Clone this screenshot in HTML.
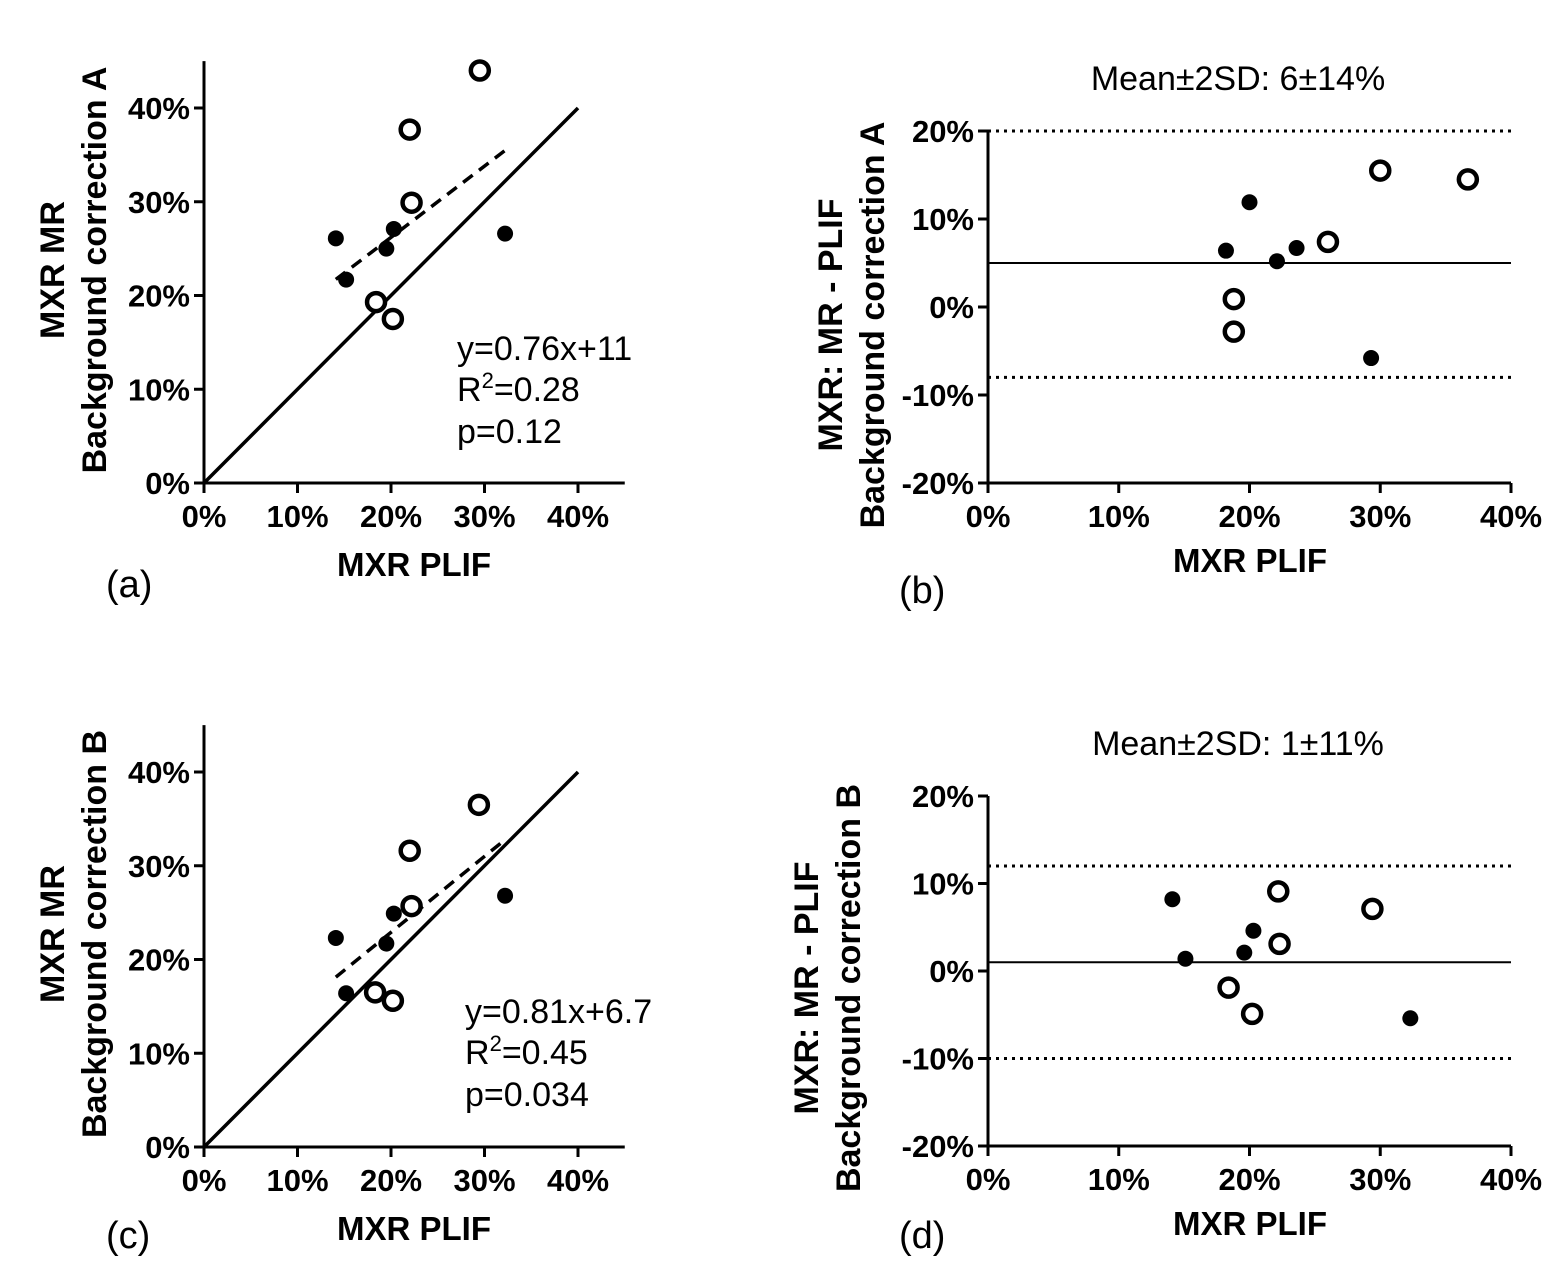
<!DOCTYPE html>
<html><head><meta charset="utf-8">
<style>
html,body{margin:0;padding:0;background:#fff;}
svg{display:block;font-family:"Liberation Sans",Arial,sans-serif;}
</style></head>
<body>
<svg id="fig" width="1563" height="1288" viewBox="0 0 1563 1288" xmlns="http://www.w3.org/2000/svg"></svg>
<script>
// Panel (a) data
const aFilledX=[14.1,15.2,19.5,20.3,32.2];
const aFilledY=[26.1,21.7,25.0,27.1,26.6];
const aOpenX=[29.5,22.0,22.2,18.4,20.2];
const aOpenY=[44.0,37.7,29.9,19.3,17.5];
const aFitSlope=0.76, aFitIntercept=11;
// Panel (b) data
const bFilledX=[18.2,20.0,22.1,23.6,29.3];
const bFilledY=[6.4,11.9,5.2,6.7,-5.8];
const bOpenX=[18.8,18.8,26.0,30.0,36.7];
const bOpenY=[0.9,-2.8,7.4,15.5,14.5];
const bMean=5, bUpper=20, bLower=-8;
// Panel (c) data
const cFilledX=[14.1,15.2,19.5,20.3,32.2];
const cFilledY=[22.3,16.4,21.7,24.9,26.8];
const cOpenX=[29.4,22.0,22.2,18.3,20.2];
const cOpenY=[36.5,31.6,25.7,16.5,15.6];
const cFitSlope=0.81, cFitIntercept=6.7;
// Panel (d) data
const dFilledX=[14.1,15.1,19.6,20.3,32.3];
const dFilledY=[8.2,1.4,2.1,4.6,-5.4];
const dOpenX=[18.4,20.2,22.2,22.3,29.4];
const dOpenY=[-1.9,-4.9,9.1,3.1,7.1];
const dMean=1, dUpper=12, dLower=-10;
// ticks
const scatterTicks=[0,10,20,30,40];
const baYTicks=[-20,-10,0,10,20];
const baXTicks=[0,10,20,30,40];

const NS="http://www.w3.org/2000/svg";
const svg=document.getElementById('fig');
function el(tag,attrs,parent,text){
  const e=document.createElementNS(NS,tag);
  for(const k in attrs)e.setAttribute(k,attrs[k]);
  if(text!==undefined)e.textContent=text;
  (parent||svg).appendChild(e);return e;
}
function axes(g,sx,sy,xmin,xmax,ymin,ymax,xt,yt){
  const xa=el('line',{x1:sx(xmin),y1:sy(ymin),x2:sx(xmax),y2:sy(ymin),stroke:'#000','stroke-width':3},g);
  
  
  const ya=el('line',{x1:sx(xmin),y1:sy(ymin),x2:sx(xmin),y2:sy(ymax),stroke:'#000','stroke-width':3},g);
  
  
  xt.forEach(v=>{
    el('line',{x1:sx(v),y1:sy(ymin),x2:sx(v),y2:sy(ymin)+10,stroke:'#000','stroke-width':3},g);
    const t=el('text',{x:sx(v),y:sy(ymin)+44,'text-anchor':'middle','font-size':31,'font-weight':'bold'},g,v+'%');
    
    
  });
  yt.forEach(v=>{
    el('line',{x1:sx(xmin)-10,y1:sy(v),x2:sx(xmin),y2:sy(v),stroke:'#000','stroke-width':3},g);
    const t=el('text',{x:sx(xmin)-14,y:sy(v)+11,'text-anchor':'end','font-size':31,'font-weight':'bold'},g,v+'%');
    
    
  });
}
function points(g,sx,sy,fx,fy,ox,oy){
  fx.forEach((v,i)=>{
    const c=el('circle',{cx:sx(v),cy:sy(fy[i]),r:8,fill:'#000'},g);
    
    
  });
  ox.forEach((v,i)=>{
    const c=el('circle',{cx:sx(v),cy:sy(oy[i]),r:9,fill:'#fff',stroke:'#000','stroke-width':4.5},g);
    
    
  });
}
function ylab(g,x1,x2,cy,l1,l2){
  const a=el('text',{x:x1,y:cy,transform:`rotate(-90 ${x1} ${cy})`,'text-anchor':'middle','font-size':34,'font-weight':'bold'},g,l1);
  
  
  const b=el('text',{x:x2,y:cy,transform:`rotate(-90 ${x2} ${cy})`,'text-anchor':'middle','font-size':34,'font-weight':'bold'},g,l2);
  
  
}
function txt(g,x,y,s,size,name,anchor,weight){
  const t=el('text',{x:x,y:y,'font-size':size,'text-anchor':anchor||'start','font-weight':weight||'normal'},g,s);
  
  
  return t;
}

function scatterPanel(ox,oy,fX,fY,oX,oY,slope,inter,eq,r2,p,letter,l2,eqY,letY){
  const g=el('g',{});
  
  
  const sx=v=>204+v*9.35, sy=v=>oy-v*9.375;
  axes(g,sx,sy,0,45,0,45,scatterTicks,scatterTicks);
  const id=el('line',{x1:sx(0),y1:sy(0),x2:sx(40),y2:sy(40),stroke:'#000','stroke-width':3.5},g);
  
  
  const x0=Math.min(...fX,...oX), x1=Math.max(...fX,...oX);
  const fl=el('line',{x1:sx(x0),y1:sy(slope*x0+inter),x2:sx(x1),y2:sy(slope*x1+inter),stroke:'#000','stroke-width':3.5,'stroke-dasharray':'12,8'},g);
  
  
  points(g,sx,sy,fX,fY,oX,oY);
  ylab(g,64,106,oy-213,'MXR MR',l2);
  txt(g,414,oy+93,'MXR PLIF',33,'x-axis-title','middle','bold');
  txt(g,106,letY,'('+letter+')',38,'panel-label');
  txt(g,ox,eqY,eq,34,'regression-equation');
  const r=txt(g,ox,eqY+41,'R',34,'r-squared');
  el('tspan',{dy:-13,'font-size':22},r,'2');
  el('tspan',{dy:13},r,'='+r2);
  txt(g,ox,eqY+83,'p='+p,34,'p-value');
}
function baPanel(oy,fX,fY,oX,oY,mean,up,lo,letter,l2,title,labX,letY){
  const g=el('g',{});
  
  
  const sx=v=>988+v*13.075, sy=v=>oy-(v+20)*(oy===483?8.8:8.75);
  axes(g,sx,sy,0,40,-20,20,baXTicks,baYTicks);
  const m=el('line',{x1:sx(0),y1:sy(mean),x2:sx(40),y2:sy(mean),stroke:'#000','stroke-width':2},g);
  
  
  [up,lo].forEach((v,i)=>{
    const l=el('line',{x1:sx(0),y1:sy(v),x2:sx(40),y2:sy(v),stroke:'#000','stroke-width':3,'stroke-dasharray':'3,5'},g);
    
    
  });
  points(g,sx,sy,fX,fY,oX,oY);
  ylab(g,labX,labX+42,oy-158,'MXR: MR - PLIF',l2);
  txt(g,1250,oy+89,'MXR PLIF',33,'x-axis-title','middle','bold');
  txt(g,899,letY,'('+letter+')',38,'panel-label');
  txt(g,1238,sy(20)-41,title,34,'panel-title','middle');
}
scatterPanel(457,483,aFilledX,aFilledY,aOpenX,aOpenY,aFitSlope,aFitIntercept,'y=0.76x+11','0.28','0.12','a','Background correction A',360,597);
baPanel(483,bFilledX,bFilledY,bOpenX,bOpenY,bMean,bUpper,bLower,'b','Background correction A','Mean±2SD: 6±14%',842,603);
scatterPanel(465,1147,cFilledX,cFilledY,cOpenX,cOpenY,cFitSlope,cFitIntercept,'y=0.81x+6.7','0.45','0.034','c','Background correction B',1023,1248);
baPanel(1146,dFilledX,dFilledY,dOpenX,dOpenY,dMean,dUpper,dLower,'d','Background correction B','Mean±2SD: 1±11%',818,1248);
</script>
</body></html>
